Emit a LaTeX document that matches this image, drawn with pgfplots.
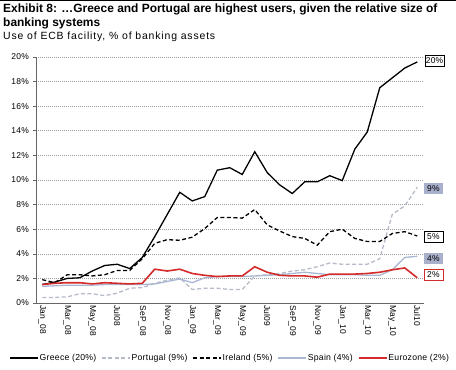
\documentclass[border=0pt]{standalone}
\usepackage{pgfplots}
\pgfplotsset{compat=1.18}
\usepackage{fontspec}
\setmainfont{Liberation Sans}
\definecolor{grc}{HTML}{000000}
\definecolor{ptc}{HTML}{B5BBC8}
\definecolor{spc}{HTML}{A9B7D3}
\definecolor{ezc}{HTML}{D42A2A}
\definecolor{boxc}{HTML}{A9B0CC}
\begin{document}
\begin{tikzpicture}
\begin{axis}[
  at={(0,0)}, anchor=south west,
  scale only axis, width=387.5bp, height=246bp,
  xmin=-0.5, xmax=30.5, ymin=0, ymax=20,
  axis x line=bottom, axis y line=left,
  axis line style={-, gray!80!black, line width=0.6bp},
  xtick={0,2,...,30},
  xticklabels={Jan\_08,Mar\_08,May\_08,Jul08,SeP\_08,Nov\_08,Jan\_09,Mar\_09,May\_09,Jul09,SeP\_09,Nov\_09,Jan\_10,Mar\_10,May\_10,Jul10},
  xticklabel style={rotate=-90, anchor=west, font=\fontsize{8.5}{9}\selectfont\addfontfeatures{LetterSpace=3}, inner sep=1bp, xshift=-2bp},
  x tick style={draw=none},
  extra x ticks={-0.5,1.5,...,29.5},
  extra x tick labels={},
  extra x tick style={tick style={draw=gray!80!black, line width=0.6bp}, major tick length=4bp, tick align=outside},
  ytick={0,2,...,20},
  yticklabels={0\%,2\%,4\%,6\%,8\%,10\%,12\%,14\%,16\%,18\%,20\%},
  yticklabel style={font=\fontsize{8.5}{10}\selectfont\addfontfeatures{LetterSpace=3}, inner sep=1bp, xshift=-3bp},
  y tick style={draw=gray!80!black, line width=0.6bp},
  major tick length=3bp, tick align=outside,
  ymajorgrids, grid style={gray!75, line width=0.6bp, dash pattern=on 1bp off 1bp},
  clip=false,
  legend columns=5,
  legend style={at={(0.5,-0.2236)}, anchor=center, draw=none, fill=none,
    font=\fontsize{8.7}{10}\selectfont\addfontfeatures{LetterSpace=3}, inner sep=0pt,
    /tikz/every even column/.append style={column sep=4bp},
    nodes={inner sep=1bp}},
  legend image code/.code={\draw[#1] (0bp,0bp) -- (28bp,0bp);},
]
\addplot[grc, line width=1.3bp] coordinates {
(0,1.5)(1,1.7)(2,2.0)(3,2.05)(4,2.6)(5,3.05)(6,3.15)(7,2.8)(8,3.7)(9,5.4)(10,7.2)
(11,9.0)(12,8.3)(13,8.65)(14,10.8)(15,11.0)(16,10.45)(17,12.3)(18,10.6)(19,9.6)(20,8.9)
(21,9.85)(22,9.85)(23,10.35)(24,9.95)(25,12.5)(26,13.9)(27,17.5)(28,18.3)(29,19.1)(30,19.6)};
\addlegendentry{Greece (20\%)}
\addplot[ptc, line width=1.3bp, dash pattern=on 4bp off 2.5bp] coordinates {
(0,0.45)(1,0.45)(2,0.5)(3,0.75)(4,0.75)(5,0.6)(6,0.8)(7,1.2)(8,1.25)(9,1.6)(10,1.85)
(11,2.05)(12,1.1)(13,1.2)(14,1.2)(15,1.1)(16,1.1)(17,2.2)(18,2.3)(19,2.4)(20,2.6)
(21,2.7)(22,2.95)(23,3.25)(24,3.15)(25,3.15)(26,3.15)(27,3.6)(28,7.2)(29,7.9)(30,9.4)};
\addlegendentry{Portugal (9\%)}
\addplot[grc, line width=1.3bp, dash pattern=on 4bp off 2.5bp] coordinates {
(0,1.9)(1,1.65)(2,2.3)(3,2.3)(4,2.2)(5,2.3)(6,2.65)(7,2.65)(8,3.6)(9,4.85)(10,5.15)
(11,5.1)(12,5.35)(13,6.05)(14,6.95)(15,6.95)(16,6.9)(17,7.6)(18,6.35)(19,5.85)(20,5.4)
(21,5.25)(22,4.7)(23,5.8)(24,6.0)(25,5.25)(26,5.0)(27,5.0)(28,5.65)(29,5.8)(30,5.45)};
\addlegendentry{Ireland (5\%)}
\addplot[spc, line width=1.3bp] coordinates {
(0,1.35)(1,1.4)(2,1.45)(3,1.45)(4,1.45)(5,1.5)(6,1.5)(7,1.5)(8,1.5)(9,1.55)(10,1.75)
(11,1.95)(12,1.65)(13,2.05)(14,2.15)(15,2.15)(16,2.15)(17,2.2)(18,2.25)(19,2.3)(20,2.4)
(21,2.5)(22,2.4)(23,2.3)(24,2.3)(25,2.3)(26,2.25)(27,2.25)(28,2.7)(29,3.7)(30,3.8)};
\addlegendentry{Spain (4\%)}
\addplot[ezc, line width=1.6bp] coordinates {
(0,1.5)(1,1.6)(2,1.65)(3,1.65)(4,1.55)(5,1.65)(6,1.6)(7,1.55)(8,1.6)(9,2.75)(10,2.6)
(11,2.75)(12,2.4)(13,2.25)(14,2.15)(15,2.2)(16,2.2)(17,2.95)(18,2.5)(19,2.25)(20,2.2)
(21,2.2)(22,2.1)(23,2.35)(24,2.35)(25,2.35)(26,2.4)(27,2.5)(28,2.7)(29,2.85)(30,2.05)};
\addlegendentry{Eurozone (2\%)}
\begin{scope}[every node/.style={anchor=west, font=\fontsize{8.5}{10}\selectfont\addfontfeatures{LetterSpace=3}, minimum width=19bp, minimum height=11bp, inner sep=1bp, line width=0.6bp}]
\node[draw=black, fill=white] at (axis cs:30.5,19.7) [xshift=1bp] {20\%};
\node[fill=boxc] at (axis cs:30.5,9.3) {9\%};
\node[draw=black, fill=white] at (axis cs:30.5,5.37) {5\%};
\node[fill=boxc] at (axis cs:30.5,3.58) {4\%};
\node[draw=ezc, fill=white] at (axis cs:30.5,2.28) {2\%};
\end{scope}
\end{axis}
\fill[black] (-36bp,302bp) rectangle (420bp,303bp);
\node[anchor=base west, inner sep=0pt, font=\fontsize{12}{14}\selectfont\bfseries] at (-33bp,290.3bp) {Exhibit 8: \dots Greece and Portugal are highest users, given the relative size of};
\node[anchor=base west, inner sep=0pt, font=\fontsize{12}{14}\selectfont\bfseries] at (-33bp,276.3bp) {banking systems};
\node[anchor=base west, inner sep=0pt, font=\fontsize{10.5}{12}\selectfont\addfontfeatures{LetterSpace=8}] at (-33bp,263.7bp) {Use of ECB facility, \% of banking assets};
\pgfresetboundingbox
\useasboundingbox (-36bp,-67bp) rectangle (420bp,303bp);
\end{tikzpicture}
\end{document}
